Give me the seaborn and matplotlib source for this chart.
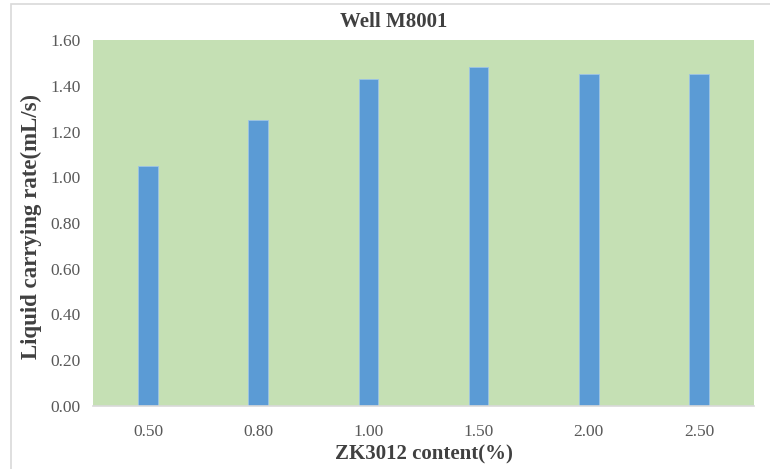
import matplotlib
matplotlib.use("Agg")
import matplotlib.pyplot as plt
import matplotlib.patches as mpatches
import seaborn as sns
import pandas as pd

# ZK3012 dosage and the measured liquid carrying rate
content = ["0.50", "0.80", "1.00", "1.50", "2.00", "2.50"]
rate = [1.05, 1.25, 1.43, 1.48, 1.45, 1.45]
y_ticks = [0.0, 0.2, 0.4, 0.6, 0.8, 1.0, 1.2, 1.4, 1.6]

df = pd.DataFrame({"content": content, "rate": rate})

sns.set_theme(style="white")
plt.rcParams["font.family"] = ["Liberation Serif", "DejaVu Serif"]

fig = plt.figure(figsize=(7.7, 4.69), dpi=100)
ax = fig.add_axes([93 / 770, 1 - 406 / 469, (754 - 93) / 770, (406 - 40) / 469])
ax.set_facecolor("#c5e0b4")

sns.barplot(data=df, x="content", y="rate", ax=ax, color="#5b9bd5",
            saturation=1, width=0.18, edgecolor="#9dc3e6", linewidth=0.6)

ax.set_ylim(0, 1.6)
ax.set_xlim(-0.5, len(content) - 0.5)
ax.set_yticks(y_ticks)
ax.set_yticklabels([f"{v:.2f}" for v in y_ticks])
ax.tick_params(axis="both", length=0, labelsize=12.5, colors="#595959")
ax.tick_params(axis="x", pad=13)
ax.tick_params(axis="y", pad=9)

for side in ["top", "right", "left"]:
    ax.spines[side].set_visible(False)
ax.spines["bottom"].set_color("#d9d9d9")
ax.spines["bottom"].set_linewidth(1.2)

ax.set_xlabel("ZK3012 content(%)", fontsize=15, fontweight="bold",
              color="#404040")
ax.set_ylabel("Liquid carrying rate(mL/s)", fontsize=16.5, fontweight="bold",
              color="#404040")
ax.xaxis.set_label_coords(0.5, (406 - 444) / 366)
ax.yaxis.set_label_coords((42 - 93) / 661, 0.49)

fig.text(394 / 770, 1 - 22 / 469, "Well M8001", ha="center", va="center",
         fontsize=15, fontweight="bold", color="#404040")

# chart frame
frame = mpatches.Rectangle((11 / 770, -0.05), 1.0, 1 - 4 / 469 + 0.05,
                           transform=fig.transFigure, fill=False,
                           edgecolor="#d9d9d9", linewidth=1.2)
fig.patches.append(frame)

fig.savefig("out.png", dpi=100, facecolor="white")
